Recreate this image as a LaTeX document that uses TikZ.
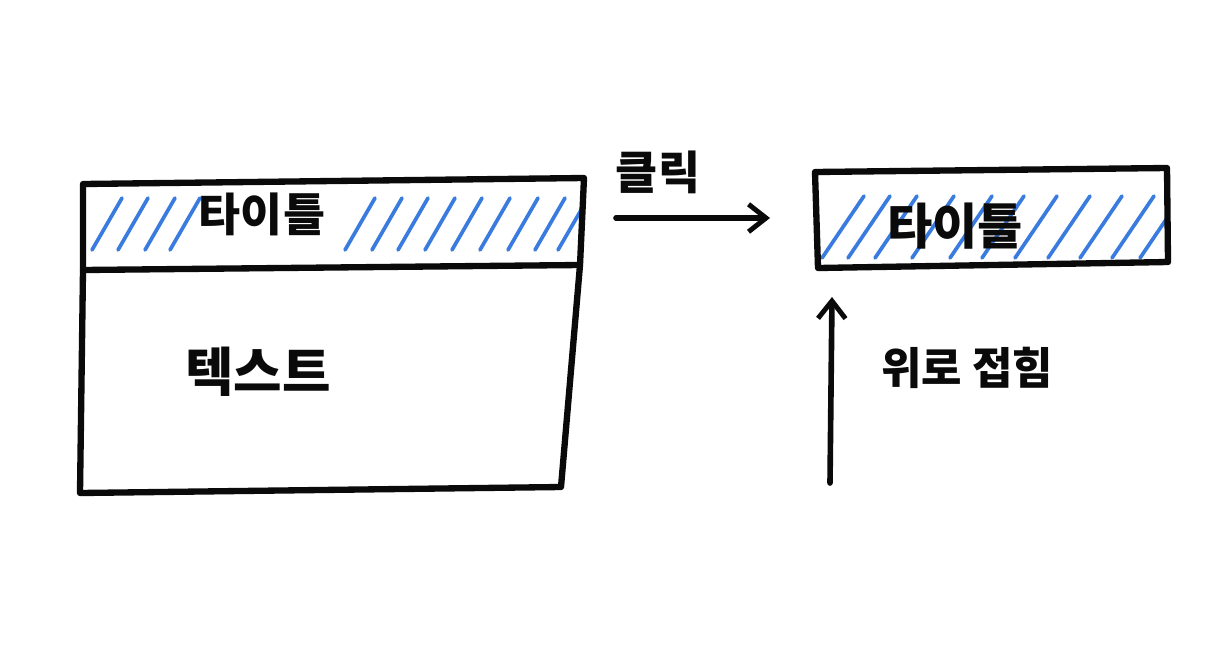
\documentclass[tikz,border=0pt]{standalone}
\usepackage{fontspec}
\usetikzlibrary{arrows.meta, positioning, calc}
\newfontfamily\krfont{Noto Sans CJK KR}
\definecolor{Ink}{HTML}{0A0A0A}
\definecolor{Hatch}{HTML}{3A7BE0}

\begin{document}
\begin{tikzpicture}[x=0.02cm,y=-0.02cm,line cap=round,line join=round,sketchline/.style={draw=Ink, line width=3.6pt},hatchline/.style={draw=Hatch, line width=2.1pt},sketcharrow/.style={-{Straight Barb[length=3.5mm, width=5.5mm, line width=2.8pt]}, draw=Ink, line width=3.2pt},handtext/.style={text=Ink, font=\krfont\bfseries\fontsize{26}{29}\selectfont, inner sep=1pt}]
\useasboundingbox (0,0) rectangle (1230,660);
\fill[white] (0,0) rectangle (1230,660);
% left card: title band and body
\coordinate (lcTL) at (83,184); \coordinate (lcTR) at (584,178);
\coordinate (lcML) at (83,270); \coordinate (lcMR) at (580,265);
\coordinate (lcBL) at (80,493); \coordinate (lcBR) at (561,487);
\begin{scope}
\clip (lcTL) -- (lcTR) -- (lcMR) -- (lcML) -- cycle;
\foreach \x in {92,118,145,170,345,372,398,425,452,480,508,535,558}
  \draw[hatchline] (\x,250) -- ++(30,-52);
\end{scope}
\draw[sketchline] (lcTL) -- (lcTR) -- (lcMR) -- (lcBR) -- (lcBL) -- (lcML) -- cycle;
\draw[sketchline] (lcML) -- (lcMR);
\node[handtext] (leftTitle) at (262,214) {타이틀};
\node[handtext, font=\krfont\bfseries\fontsize{30}{33}\selectfont] (bodyText) at (258,372) {텍스트};
% click arrow
\coordinate (clickFrom) at (616,218);
\coordinate (clickTo) at (770,218);
\draw[sketcharrow] (clickFrom) -- (clickTo);
\node[handtext] (clickLabel) at (658,172) {클릭};
% right card: folded title
\coordinate (rcTL) at (815,172); \coordinate (rcTR) at (1167,168);
\coordinate (rcBL) at (818,268); \coordinate (rcBR) at (1168,262);
\begin{scope}
\clip (rcTL) -- (rcTR) -- (rcBR) -- (rcBL) -- cycle;
\foreach \x in {822,848,875,912,950,982,1015,1048,1080,1112,1140}
  \draw[hatchline] (\x,258) -- ++(42,-62);
\end{scope}
\draw[sketchline] (rcTL) -- (rcTR) -- (rcBR) -- (rcBL) -- cycle;
\node[handtext, font=\krfont\bfseries\fontsize{28}{31}\selectfont] (rightTitle) at (955,226) {타이틀};
% fold-up arrow
\coordinate (foldFrom) at (830,483);
\coordinate (foldTo) at (832,297);
\draw[sketcharrow] (foldFrom) -- (foldTo);
\node[handtext, font=\krfont\bfseries\fontsize{25}{28}\selectfont] (foldLabel) at (967,368) {위로 접힘};
\end{tikzpicture}
\end{document}
